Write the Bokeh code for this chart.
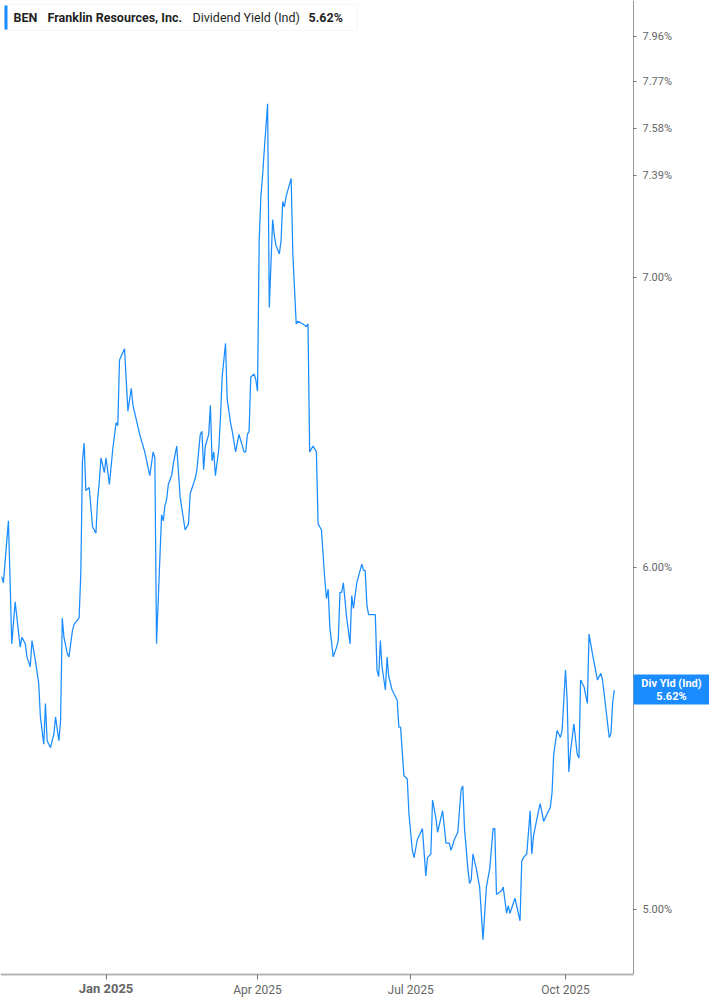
import numpy as np
import pandas as pd
from bokeh.embed import file_html
from bokeh.models import (BoxAnnotation, ColumnDataSource, CustomJSTickFormatter,
                          FixedTicker, Label, PrintfTickFormatter, Range1d)
from bokeh.plotting import figure
from bokeh.resources import INLINE

# BEN - Franklin Resources, dividend yield (indicated)
dates = [
    "2024-10-31", "2024-11-01", "2024-11-04", "2024-11-06", "2024-11-08", "2024-11-11", "2024-11-12",
    "2024-11-14", "2024-11-15", "2024-11-17", "2024-11-18", "2024-11-20", "2024-11-22", "2024-11-23",
    "2024-11-25", "2024-11-26", "2024-11-27", "2024-11-29", "2024-12-01", "2024-12-02", "2024-12-04",
    "2024-12-05", "2024-12-06", "2024-12-07", "2024-12-09", "2024-12-10", "2024-12-12", "2024-12-13",
    "2024-12-16", "2024-12-17", "2024-12-18", "2024-12-19", "2024-12-20", "2024-12-22", "2024-12-24",
    "2024-12-26", "2024-12-27", "2024-12-28", "2024-12-29", "2024-12-31", "2025-01-01", "2025-01-03",
    "2025-01-05", "2025-01-07", "2025-01-08", "2025-01-09", "2025-01-12", "2025-01-14", "2025-01-16",
    "2025-01-17", "2025-01-21", "2025-01-24", "2025-01-27", "2025-01-29", "2025-01-30", "2025-01-31",
    "2025-02-03", "2025-02-04", "2025-02-05", "2025-02-06", "2025-02-07", "2025-02-09", "2025-02-10",
    "2025-02-12", "2025-02-14", "2025-02-17", "2025-02-19", "2025-02-20", "2025-02-23", "2025-02-24",
    "2025-02-26", "2025-02-27", "2025-02-28", "2025-03-01", "2025-03-03", "2025-03-04", "2025-03-05",
    "2025-03-06", "2025-03-07", "2025-03-09", "2025-03-10", "2025-03-11", "2025-03-13", "2025-03-14",
    "2025-03-16", "2025-03-17", "2025-03-19", "2025-03-21", "2025-03-24", "2025-03-25", "2025-03-26",
    "2025-03-27", "2025-03-28", "2025-03-30", "2025-03-31", "2025-04-01", "2025-04-02", "2025-04-03",
    "2025-04-04", "2025-04-05", "2025-04-07", "2025-04-08", "2025-04-10", "2025-04-11", "2025-04-12",
    "2025-04-14", "2025-04-15", "2025-04-16", "2025-04-17", "2025-04-18", "2025-04-21", "2025-04-22",
    "2025-04-24", "2025-04-25", "2025-04-28", "2025-04-30", "2025-05-01", "2025-05-02", "2025-05-04",
    "2025-05-06", "2025-05-07", "2025-05-09",
    "2025-05-11", "2025-05-12", "2025-05-13", "2025-05-14", "2025-05-16", "2025-05-18", "2025-05-19",
    "2025-05-20", "2025-05-21", "2025-05-22", "2025-05-24", "2025-05-26", "2025-05-27", "2025-05-28",
    "2025-05-30", "2025-06-02", "2025-06-03", "2025-06-04", "2025-06-05", "2025-06-06", "2025-06-08",
    "2025-06-10", "2025-06-11", "2025-06-12", "2025-06-13", "2025-06-14", "2025-06-16", "2025-06-17",
    "2025-06-18", "2025-06-20", "2025-06-22", "2025-06-23", "2025-06-24", "2025-06-25", "2025-06-27",
    "2025-06-29", "2025-06-30", "2025-07-02", "2025-07-03", "2025-07-05", "2025-07-08", "2025-07-10",
    "2025-07-11", "2025-07-13", "2025-07-14", "2025-07-16", "2025-07-17", "2025-07-20", "2025-07-22",
    "2025-07-24", "2025-07-25", "2025-07-27", "2025-07-29", "2025-07-31", "2025-08-01", "2025-08-02",
    "2025-08-04",
    "2025-08-05", "2025-08-06", "2025-08-07", "2025-08-09", "2025-08-11", "2025-08-13", "2025-08-15",
    "2025-08-17", "2025-08-19", "2025-08-20", "2025-08-21", "2025-08-24", "2025-08-25", "2025-08-27",
    "2025-08-28", "2025-08-29", "2025-09-01", "2025-09-04", "2025-09-05", "2025-09-06", "2025-09-08",
    "2025-09-10", "2025-09-11", "2025-09-12", "2025-09-15", "2025-09-16", "2025-09-18", "2025-09-19",
    "2025-09-22", "2025-09-23", "2025-09-24", "2025-09-26", "2025-09-28", "2025-09-29", "2025-10-01",
    "2025-10-02", "2025-10-03", "2025-10-04", "2025-10-06", "2025-10-08", "2025-10-09", "2025-10-10",
    "2025-10-12", "2025-10-14", "2025-10-15", "2025-10-17", "2025-10-20", "2025-10-22", "2025-10-23",
    "2025-10-27", "2025-10-28", "2025-10-29", "2025-10-30",
]

div_yield = [
    5.97, 5.95, 6.15, 5.76, 5.89, 5.75, 5.78, 5.76, 5.72, 5.69,
    5.77, 5.71, 5.64, 5.54, 5.46, 5.58, 5.47, 5.45, 5.49, 5.54,
    5.47, 5.53, 5.84, 5.78, 5.73, 5.72, 5.80, 5.82, 5.84, 5.98,
    6.35, 6.41, 6.25, 6.26, 6.13, 6.11, 6.22, 6.28, 6.36, 6.31,
    6.36, 6.27, 6.39, 6.48, 6.47, 6.70, 6.74, 6.52, 6.60, 6.54,
    6.44, 6.38, 6.30, 6.38, 6.36, 5.76,
    6.17, 6.15, 6.20, 6.22, 6.27, 6.30, 6.34, 6.40, 6.23, 6.12,
    6.14, 6.24, 6.29, 6.32, 6.44, 6.45, 6.32, 6.40, 6.44, 6.54,
    6.35, 6.38, 6.30, 6.39, 6.50, 6.64, 6.76, 6.56, 6.48, 6.45,
    6.38, 6.44, 6.38, 6.38, 6.44, 6.45, 6.64, 6.65, 6.63, 6.59,
    7.14, 7.31, 7.39, 7.49, 7.68, 6.89, 7.22, 7.16, 7.12, 7.09,
    7.14, 7.29, 7.27, 7.31, 7.38, 7.09, 6.83, 6.84, 6.83, 6.82,
    6.83, 6.38, 6.40, 6.38, 6.14, 6.12,
    5.96, 5.90, 5.93, 5.81, 5.72, 5.75, 5.77, 5.92, 5.92, 5.95,
    5.84, 5.76, 5.91, 5.87, 5.95, 6.01, 5.99, 5.99, 5.88, 5.85,
    5.85, 5.85, 5.68, 5.66, 5.77, 5.69, 5.62, 5.72, 5.66, 5.62,
    5.60, 5.59, 5.51, 5.51, 5.37, 5.36, 5.26, 5.16, 5.14, 5.19,
    5.22, 5.09, 5.14, 5.15, 5.30, 5.25, 5.21, 5.27, 5.18, 5.18,
    5.16, 5.19, 5.21, 5.33, 5.34, 5.22, 5.11,
    5.07, 5.08, 5.15, 5.11, 5.06, 4.92, 5.06, 5.11, 5.22, 5.22,
    5.04, 5.05, 5.06, 4.99, 5.01, 4.99, 5.03, 4.97, 5.13, 5.14,
    5.15, 5.27, 5.15, 5.20, 5.27, 5.29, 5.24, 5.25, 5.28, 5.32,
    5.43, 5.50, 5.48, 5.50, 5.68, 5.59, 5.38, 5.44, 5.52, 5.43,
    5.42, 5.65, 5.63, 5.58, 5.79, 5.73, 5.65, 5.67, 5.65, 5.48,
    5.49, 5.58, 5.62,
]

y_ticks = [5.00, 6.00, 7.00, 7.39, 7.58, 7.77, 7.96]
x_ticks = ["2025-01-01", "2025-04-01", "2025-07-01", "2025-10-01"]
x_tick_labels = ["Jan 2025", "Apr 2025", "Jul 2025", "Oct 2025"]

symbol = "BEN"
company = "Franklin Resources, Inc."
metric = "Dividend Yield (Ind)"
short_metric = "Div Yld (Ind)"
last_value = div_yield[-1]

BLUE = "#1a8cff"
FONT = "Roboto"

# the plotting area is 633 x 974 px; the axes are pinned at its right/bottom edge
# and everything else (tags, labels) is drawn inside one full-canvas frame
W, H = 709, 997
FW, FH = 633, 974
x_start = pd.Timestamp("2024-10-30 07:00")
x_end = pd.Timestamp("2025-11-10 10:00")
y_lo, y_hi = 4.8298, 8.1141

x0, x1 = x_start.value / 1e6, x_end.value / 1e6


def px_x(px):
    return x0 + px / FW * (x1 - x0)


def px_y(py):
    return float(np.exp(np.log(y_lo) + (FH - py) / FH * (np.log(y_hi) - np.log(y_lo))))


p = figure(width=W, height=H, x_axis_type="datetime", y_axis_type="log",
           y_axis_location="right",
           x_range=Range1d(px_x(0), px_x(W)), y_range=Range1d(px_y(H), px_y(0)),
           output_backend="svg", toolbar_location=None,
           min_border_left=0, min_border_top=0, min_border_right=0, min_border_bottom=0)
p.grid.visible = False
p.outline_line_color = None
p.background_fill_color = "white"
p.border_fill_color = "white"

src = ColumnDataSource(dict(date=pd.to_datetime(dates), yld=div_yield))
p.line("date", "yld", source=src, line_color=BLUE, line_width=1.25)

# right axis
p.yaxis.fixed_location = px_x(FW)
p.yaxis.bounds = (px_y(FH), px_y(0))
p.yaxis.ticker = FixedTicker(ticks=y_ticks)
p.yaxis.formatter = PrintfTickFormatter(format="%.2f%%")
p.yaxis.axis_line_color = "#9a9a9a"
p.yaxis.major_tick_line_color = "#777777"
p.yaxis.major_tick_out = 3
p.yaxis.major_tick_in = 0
p.yaxis.minor_tick_line_color = None
p.yaxis.major_label_standoff = 6
p.yaxis.major_label_text_font = FONT
p.yaxis.major_label_text_font_size = "11px"
p.yaxis.major_label_text_color = "#666666"

# bottom axis
tick_ms = [pd.Timestamp(t).value / 1e6 for t in x_ticks]
p.xaxis.fixed_location = px_y(FH)
p.xaxis.bounds = (px_x(0), px_x(FW))
p.xaxis.ticker = FixedTicker(ticks=tick_ms)
p.xaxis.formatter = CustomJSTickFormatter(args=dict(tvals=tick_ms, tlabels=x_tick_labels), code="""
    for (let i = 0; i < tvals.length; i++) {
        if (Math.abs(tvals[i] - tick) < 1e6) { return i == 0 ? "" : tlabels[i]; }
    }
    return "";
""")
p.xaxis.axis_line_color = "#b5b5b5"
p.xaxis.axis_line_width = 2
p.xaxis.major_tick_line_color = "#777777"
p.xaxis.major_tick_out = 5
p.xaxis.major_tick_in = 0
p.xaxis.minor_tick_line_color = None
p.xaxis.major_label_standoff = 3
p.xaxis.major_label_text_font = FONT
p.xaxis.major_label_text_font_size = "12px"
p.xaxis.major_label_text_color = "#666666"

# first tick of the year in bold
p.add_layout(Label(x=tick_ms[0], y=px_y(988), text=x_tick_labels[0], text_align="center",
                   text_baseline="middle", text_font=FONT, text_font_size="13px",
                   text_font_style="bold", text_color="#666666", level="overlay"))

# header box
p.add_layout(BoxAnnotation(left=px_x(4), right=px_x(357), top=px_y(4), bottom=px_y(30),
                           fill_color="white", fill_alpha=1, line_color="#e2e2e2",
                           line_width=1, level="annotation"))
p.add_layout(BoxAnnotation(left=px_x(4), right=px_x(7), top=px_y(5), bottom=px_y(29),
                           fill_color=BLUE, fill_alpha=1, line_color=None, level="annotation"))
for txt, xp, style in [(symbol, 13, "bold"), (company, 47, "bold"),
                       (metric, 192, "normal"), (f"{last_value:.2f}%", 308, "bold")]:
    p.add_layout(Label(x=px_x(xp), y=px_y(17), text=txt, text_align="left",
                       text_baseline="middle", text_font=FONT, text_font_size="12.5px",
                       text_font_style=style, text_color="#1f1f1f", level="overlay"))

# last value tag on the axis
p.add_layout(BoxAnnotation(left=px_x(FW), right=px_x(W), top=px_y(674), bottom=px_y(704),
                           fill_color=BLUE, fill_alpha=1, line_color=None, level="annotation"))
p.add_layout(Label(x=px_x(671), y=px_y(689), text=f"{short_metric}\n{last_value:.2f}%",
                   text_align="center", text_baseline="middle", text_font=FONT,
                   text_font_size="11px", text_font_style="bold", text_color="white",
                   text_line_height=1.0, level="overlay"))

open("out.html", "w").write(file_html(p, INLINE))
